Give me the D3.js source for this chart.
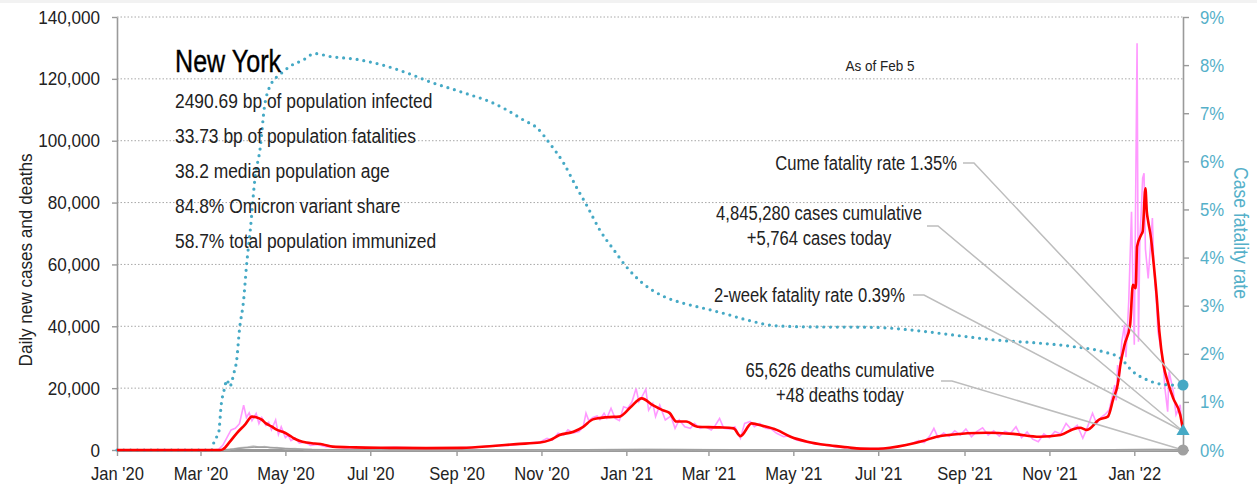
<!DOCTYPE html>
<html>
<head>
<meta charset="utf-8">
<script src="https://cdn.jsdelivr.net/npm/d3@7"></script>
<style>
  body { margin: 0; background: #fff; }
  text { font-family: 'Liberation Sans', Arial, sans-serif; }
</style>
</head>
<body>
<div id="chart"></div>
<script>
// ---- data ----
var stateName = "New York";
var statLines = [
  "2490.69 bp of population infected",
  "33.73 bp of population fatalities",
  "38.2 median population age",
  "84.8% Omicron variant share",
  "58.7% total population immunized"
];
var asOfLabel = "As of Feb 5";
var cumeLabel = ["Cume fatality rate 1.35%"];
var casesLabel = ["4,845,280 cases cumulative", "+5,764 cases today"];
var twoWeekLabel = ["2-week fatality rate 0.39%"];
var deathsLabel = ["65,626 deaths cumulative", "+48 deaths today"];
var cumeRate = 1.35;
var twoWeekRate = 0.39;
var startDate = "2020-01-01";
var endDate = "2022-02-05";
var yTicks = [0, 20000, 40000, 60000, 80000, 100000, 120000, 140000];
var rTicks = [0, 1, 2, 3, 4, 5, 6, 7, 8, 9];

// daily new cases (thin pink)
var dailyCases = [
  ["2020-01-01",0],["2020-03-10",0],["2020-03-14",200],["2020-03-17",1500],["2020-03-20",4000],
  ["2020-03-23",6500],["2020-03-26",7000],["2020-03-29",8500],["2020-04-01",14500],["2020-04-03",10500],
  ["2020-04-05",12000],["2020-04-07",9500],["2020-04-10",11800],["2020-04-12",8500],["2020-04-14",10500],
  ["2020-04-17",8000],["2020-04-19",9000],["2020-04-21",6500],["2020-04-24",9700],["2020-04-26",5000],
  ["2020-04-28",7500],["2020-05-01",4000],["2020-05-03",4800],["2020-05-05",3000],["2020-05-08",3800],
  ["2020-05-11",2200],["2020-05-15",2600],["2020-05-19",1500],["2020-05-24",1800],["2020-05-30",1100],
  ["2020-06-06",900],["2020-06-15",700],["2020-06-25",800],["2020-07-05",650],["2020-07-18",850],
  ["2020-08-01",700],["2020-08-15",600],["2020-09-01",750],["2020-09-15",850],["2020-09-29",1400],
  ["2020-10-08",1500],["2020-10-16",1900],["2020-10-24",2300],["2020-10-31",2600],["2020-11-05",3800],
  ["2020-11-09",3200],["2020-11-13",5400],["2020-11-17",4800],["2020-11-20",6500],["2020-11-24",5500],
  ["2020-11-28",6000],["2020-12-01",7500],["2020-12-03",11900],["2020-12-05",9500],["2020-12-08",10500],
  ["2020-12-11",11000],["2020-12-13",9800],["2020-12-16",11900],["2020-12-18",10300],["2020-12-21",13500],
  ["2020-12-24",10200],["2020-12-27",9500],["2020-12-30",14000],["2021-01-02",13500],["2021-01-05",15500],
  ["2021-01-08",19900],["2021-01-10",15600],["2021-01-12",17000],["2021-01-15",19600],["2021-01-17",12900],
  ["2021-01-20",15100],["2021-01-22",10800],["2021-01-25",14500],["2021-01-29",9700],["2021-02-02",11000],
  ["2021-02-05",7000],["2021-02-08",9700],["2021-02-12",7500],["2021-02-16",7000],["2021-02-19",8600],
  ["2021-02-23",7000],["2021-02-27",7500],["2021-03-03",6500],["2021-03-06",8000],["2021-03-09",10200],
  ["2021-03-12",7000],["2021-03-16",6800],["2021-03-20",7500],["2021-03-24",3800],["2021-03-27",8600],
  ["2021-03-31",9200],["2021-04-03",7500],["2021-04-07",8600],["2021-04-11",7000],["2021-04-15",6800],
  ["2021-04-19",5400],["2021-04-24",4300],["2021-04-28",4600],["2021-05-03",3200],["2021-05-09",2700],
  ["2021-05-16",2000],["2021-05-23",1600],["2021-06-01",1000],["2021-06-10",700],["2021-06-20",500],
  ["2021-07-01",450],["2021-07-10",700],["2021-07-18",1300],["2021-07-25",2100],["2021-07-30",3000],
  ["2021-08-03",2400],["2021-08-07",4500],["2021-08-10",7000],["2021-08-13",4000],["2021-08-17",5500],
  ["2021-08-21",4400],["2021-08-25",6200],["2021-08-29",4800],["2021-09-02",6800],["2021-09-06",4300],
  ["2021-09-10",6000],["2021-09-14",7200],["2021-09-18",4800],["2021-09-22",6200],["2021-09-26",4500],
  ["2021-09-30",6000],["2021-10-04",5300],["2021-10-08",7500],["2021-10-12",4000],["2021-10-16",5800],
  ["2021-10-20",3500],["2021-10-24",2700],["2021-10-28",5200],["2021-11-01",4000],["2021-11-05",6000],
  ["2021-11-09",5200],["2021-11-13",8600],["2021-11-17",6500],["2021-11-21",8000],["2021-11-25",3800],
  ["2021-11-28",7000],["2021-12-02",11900],["2021-12-05",8500],["2021-12-08",10500],["2021-12-11",11500],
  ["2021-12-14",13000],["2021-12-16",17000],["2021-12-18",21000],["2021-12-19",16000],["2021-12-20",27500],
  ["2021-12-21",22000],["2021-12-23",35000],["2021-12-25",40500],["2021-12-26",30000],["2021-12-28",48000],
  ["2021-12-30",77000],["2021-12-31",53400],["2022-01-01",34000],["2022-01-03",131500],["2022-01-04",35000],
  ["2022-01-05",68500],["2022-01-06",77000],["2022-01-07",87900],["2022-01-08",89500],["2022-01-09",65000],
  ["2022-01-11",55500],["2022-01-12",62000],["2022-01-14",75000],["2022-01-15",60000],["2022-01-17",47000],
  ["2022-01-18",38300],["2022-01-20",33000],["2022-01-22",27000],["2022-01-23",20000],["2022-01-25",12400],
  ["2022-01-26",25400],["2022-01-29",19000],["2022-01-31",11400],["2022-02-03",14600],["2022-02-04",8000],
  ["2022-02-05",5764]
];

// 7-day average of new cases (thick red)
var avgCases = [
  ["2020-01-01",0],["2020-03-15",0],["2020-03-17",200],["2020-03-22",2600],["2020-03-27",5400],
  ["2020-04-02",8200],["2020-04-07",10800],["2020-04-10",10600],["2020-04-14",9800],["2020-04-17",8600],
  ["2020-04-21",7600],["2020-04-25",6500],["2020-04-29",5900],["2020-05-03",5000],["2020-05-07",3800],
  ["2020-05-11",3000],["2020-05-16",2400],["2020-05-22",2100],["2020-05-28",1800],["2020-06-04",1100],
  ["2020-06-20",850],["2020-07-15",700],["2020-08-10",600],["2020-09-05",700],["2020-09-27",1300],
  ["2020-10-14",1900],["2020-10-31",2400],["2020-11-07",3200],["2020-11-14",4850],["2020-11-24",5900],
  ["2020-12-01",7500],["2020-12-08",9900],["2020-12-18",10600],["2020-12-27",10800],["2021-01-04",13800],
  ["2021-01-12",16700],["2021-01-20",14500],["2021-01-27",12900],["2021-02-01",12000],["2021-02-06",9200],
  ["2021-02-13",9200],["2021-02-21",7500],["2021-03-09",7300],["2021-03-19",7000],["2021-03-24",4500],
  ["2021-04-01",8600],["2021-04-09",7800],["2021-04-19",6500],["2021-04-29",4300],["2021-05-11",2700],
  ["2021-05-25",1600],["2021-06-09",870],["2021-06-18",430],["2021-07-01",400],["2021-07-21",1600],
  ["2021-08-02",2900],["2021-08-12",4300],["2021-09-03",5400],["2021-09-17",5600],["2021-10-06",5200],
  ["2021-10-25",4300],["2021-11-09",4850],["2021-11-18",6700],["2021-11-23",7200],["2021-11-28",6500],
  ["2021-12-07",9900],["2021-12-13",10800],["2021-12-17",16700],["2021-12-20",21000],["2021-12-22",27500],
  ["2021-12-25",34000],["2021-12-29",40500],["2021-12-31",53400],["2022-01-02",52300],["2022-01-03",65800],
  ["2022-01-06",69600],["2022-01-07",70600],["2022-01-09",84600],["2022-01-10",77000],["2022-01-11",73900],
  ["2022-01-13",68500],["2022-01-15",59900],["2022-01-17",50200],["2022-01-19",38300],["2022-01-22",27500],
  ["2022-01-25",22100],["2022-01-29",16700],["2022-02-03",11400],["2022-02-05",6500]
];

// daily deaths (light grey) and their average (grey)
var dailyDeaths = [
  ["2020-01-01",0],["2020-03-14",0],["2020-03-22",200],["2020-03-29",700],["2020-04-04",1000],
  ["2020-04-08",1300],["2020-04-12",900],["2020-04-16",1100],["2020-04-20",700],["2020-04-25",800],
  ["2020-05-01",400],["2020-05-08",450],["2020-05-15",200],["2020-05-22",150],["2020-06-05",60],
  ["2020-07-01",15],["2020-09-01",10],["2020-11-01",25],["2020-12-01",70],["2021-01-10",200],
  ["2021-02-10",130],["2021-03-20",70],["2021-05-01",30],["2021-07-01",8],["2021-09-01",35],
  ["2021-11-01",30],["2021-12-15",60],["2022-01-15",200],["2022-02-05",48]
];
var avgDeaths = [
  ["2020-01-01",0],["2020-03-16",0],["2020-03-25",300],["2020-04-02",750],["2020-04-10",950],
  ["2020-04-18",850],["2020-04-28",600],["2020-05-08",350],["2020-05-20",150],["2020-06-10",50],
  ["2020-07-15",15],["2020-10-01",10],["2020-12-01",60],["2021-01-15",170],["2021-03-01",90],
  ["2021-05-15",25],["2021-07-15",8],["2021-09-15",30],["2021-11-15",30],["2022-01-15",180],
  ["2022-02-05",110]
];

// cumulative case fatality rate in % (teal dots, right axis)
var fatalityRate = [
  ["2020-01-01",0],["2020-03-09",0],["2020-03-11",0.2],["2020-03-14",0.35],["2020-03-16",0.97],
  ["2020-03-18",1.25],["2020-03-20",1.46],["2020-03-22",1.32],["2020-03-25",1.6],["2020-03-27",1.87],
  ["2020-03-29",2.5],["2020-04-01",3.12],["2020-04-03",3.81],["2020-04-06",4.64],["2020-04-09",5.61],
  ["2020-04-13",6.3],["2020-04-16",7.14],["2020-04-21",7.62],["2020-04-27",7.8],["2020-05-04",7.97],
  ["2020-05-14",8.11],["2020-05-22",8.24],["2020-06-02",8.18],["2020-06-21",8.12],["2020-07-10",8.0],
  ["2020-07-30",7.81],["2020-08-13",7.65],["2020-08-27",7.52],["2020-09-11",7.38],["2020-09-25",7.24],
  ["2020-10-07",7.07],["2020-10-19",6.86],["2020-10-29",6.69],["2020-11-07",6.37],["2020-11-17",5.96],
  ["2020-11-26",5.47],["2020-12-04",5.06],["2020-12-13",4.57],["2020-12-23",4.16],["2021-01-01",3.81],
  ["2021-01-13",3.46],["2021-01-28",3.19],["2021-02-11",3.05],["2021-02-25",2.95],["2021-03-12",2.84],
  ["2021-03-29",2.7],["2021-04-19",2.58],["2021-05-11",2.56],["2021-06-27",2.55],["2021-07-26",2.49],
  ["2021-08-24",2.39],["2021-09-22",2.29],["2021-10-25",2.22],["2021-11-18",2.15],["2021-12-10",2.04],
  ["2021-12-22",1.91],["2021-12-31",1.63],["2022-01-10",1.46],["2022-01-20",1.37],["2022-01-29",1.35],
  ["2022-02-05",1.35]
];

// ---- layout ----
var svgWidth = 1257;
var svgHeight = 488;
var plot = { left: 117, right: 1183, top: 17, bottom: 450 };

var teal = "#45a9c5";
var tealText = "#55b0c9";
var axisGrey = "#9a9a9a";
var leaderGrey = "#bdbdbd";

var parseDate = d3.timeParse("%Y-%m-%d");
function toPoints(arr) {
  return arr.map(function(d) { return { date: parseDate(d[0]), value: d[1] }; });
}

// squeeze text horizontally to get the narrow look of the original typeface
function narrow(sel, factor) {
  sel.each(function() {
    var len = this.getComputedTextLength();
    d3.select(this)
      .attr("textLength", len * factor)
      .attr("lengthAdjust", "spacingAndGlyphs");
  });
}

var svg = d3.select("#chart")
  .append("svg")
  .attr("width", svgWidth)
  .attr("height", svgHeight);

// thin light band along the top edge
svg.append("rect")
  .attr("x", 0).attr("y", 0)
  .attr("width", svgWidth).attr("height", 3)
  .attr("fill", "#f2f2f2");

var xScale = d3.scaleTime()
  .domain([parseDate(startDate), parseDate(endDate)])
  .range([plot.left, plot.right]);

var yScale = d3.scaleLinear()
  .domain([0, 140000])
  .range([plot.bottom, plot.top]);

var rateScale = d3.scaleLinear()
  .domain([0, 9])
  .range([plot.bottom, plot.top]);

// dotted grid lines
svg.append("g")
  .selectAll("line")
  .data(yTicks.filter(function(d) { return d > 0; }))
  .enter()
  .append("line")
  .attr("x1", plot.left)
  .attr("x2", plot.right)
  .attr("y1", d => yScale(d))
  .attr("y2", d => yScale(d))
  .attr("stroke", "#a8a8a8")
  .attr("stroke-width", 1)
  .attr("stroke-dasharray", "1.5,2");

// left axis
var leftAxis = svg.append("g")
  .attr("transform", `translate(${plot.left},0)`)
  .call(d3.axisLeft(yScale).tickValues(yTicks).tickFormat(d3.format(",")).tickSize(5).tickSizeOuter(0).tickPadding(12));

leftAxis.selectAll("text").attr("font-size", 19).attr("fill", "#222");

// right axis
var rightAxis = svg.append("g")
  .attr("transform", `translate(${plot.right},0)`)
  .call(d3.axisRight(rateScale).tickValues(rTicks).tickFormat(d => d + "%").tickSize(6).tickSizeOuter(0).tickPadding(11));

rightAxis.selectAll("text").attr("font-size", 19).attr("fill", tealText);

// bottom axis
var bottomAxis = svg.append("g")
  .attr("transform", `translate(0,${plot.bottom})`)
  .call(d3.axisBottom(xScale).ticks(d3.timeMonth.every(2)).tickFormat(d3.timeFormat("%b '%y")).tickSize(6).tickSizeOuter(0).tickPadding(11));

bottomAxis.selectAll("text").attr("font-size", 19).attr("fill", "#222");

[leftAxis, rightAxis, bottomAxis].forEach(function(ax) {
  ax.attr("font-family", null);
  ax.select(".domain").attr("stroke", axisGrey).attr("stroke-width", 1.6);
  ax.selectAll(".tick line").attr("stroke", axisGrey).attr("stroke-width", 1.4);
});
bottomAxis.select(".domain").attr("stroke-width", 3);

narrow(leftAxis.selectAll("text"), 0.9);
narrow(rightAxis.selectAll("text"), 0.88);
narrow(bottomAxis.selectAll("text"), 0.87);

// axis titles
var leftTitle = svg.append("text")
  .attr("transform", "translate(32,260) rotate(-90)")
  .attr("text-anchor", "middle")
  .attr("font-size", 19)
  .attr("fill", "#222")
  .text("Daily new cases and deaths");

var rightTitle = svg.append("text")
  .attr("transform", "translate(1234,233) rotate(90)")
  .attr("text-anchor", "middle")
  .attr("font-size", 20)
  .attr("fill", tealText)
  .text("Case fatality rate");

narrow(leftTitle, 0.9);
narrow(rightTitle, 0.88);

// lines
var valueLine = d3.line()
  .x(d => xScale(d.date))
  .y(d => yScale(d.value));

var rateLine = d3.line()
  .x(d => xScale(d.date))
  .y(d => rateScale(d.value))
  .curve(d3.curveMonotoneX);

svg.append("path")
  .datum(toPoints(dailyDeaths))
  .attr("d", valueLine)
  .attr("fill", "none")
  .attr("stroke", "#c8c8c8")
  .attr("stroke-width", 1.5);

svg.append("path")
  .datum(toPoints(avgDeaths))
  .attr("d", valueLine)
  .attr("fill", "none")
  .attr("stroke", "#a0a0a0")
  .attr("stroke-width", 1.5);

svg.append("path")
  .datum(toPoints(dailyCases))
  .attr("d", valueLine)
  .attr("fill", "none")
  .attr("stroke", "#ff99ff")
  .attr("stroke-width", 1.6);

svg.append("path")
  .datum(toPoints(fatalityRate))
  .attr("d", rateLine)
  .attr("fill", "none")
  .attr("stroke", teal)
  .attr("stroke-width", 3.2)
  .attr("stroke-linecap", "round")
  .attr("stroke-dasharray", "0,6.8");

svg.append("path")
  .datum(toPoints(avgCases))
  .attr("d", valueLine.curve(d3.curveMonotoneX))
  .attr("fill", "none")
  .attr("stroke", "#ff0000")
  .attr("stroke-width", 2.6)
  .attr("stroke-linejoin", "round");

// title block
var title = svg.append("text")
  .attr("x", 175)
  .attr("y", 72)
  .attr("font-size", 31)
  .attr("fill", "#000")
  .attr("stroke", "#000")
  .attr("stroke-width", 0.4)
  .text(stateName);
narrow(title, 0.81);

var stats = svg.append("g")
  .selectAll("text")
  .data(statLines)
  .enter()
  .append("text")
  .attr("x", 175)
  .attr("y", (d, i) => 108 + i * 35)
  .attr("font-size", 20)
  .attr("fill", "#222")
  .text(d => d);
narrow(stats, 0.87);

var asOf = svg.append("text")
  .attr("x", 880)
  .attr("y", 71)
  .attr("text-anchor", "middle")
  .attr("font-size", 15)
  .attr("fill", "#222")
  .text(asOfLabel);
narrow(asOf, 0.9);

// end markers
var lastDate = parseDate(endDate);
var markX = xScale(lastDate);
var cumeY = rateScale(cumeRate);
var twoWeekY = rateScale(twoWeekRate);
var zeroY = yScale(0);

// annotations with leader lines
var notes = [
  { lines: cumeLabel, anchor: "end", x: 957, y: 170, lx: 963, ly: 163, tx: markX, ty: cumeY },
  { lines: casesLabel, anchor: "middle", x: 819, y: 220, lx: 927, ly: 226, tx: markX, ty: twoWeekY },
  { lines: twoWeekLabel, anchor: "end", x: 905, y: 302, lx: 913, ly: 295, tx: markX, ty: twoWeekY },
  { lines: deathsLabel, anchor: "middle", x: 840, y: 377, lx: 941, ly: 381, tx: markX, ty: zeroY }
];

notes.forEach(function(n) {
  svg.append("polyline")
    .attr("points", [[n.lx, n.ly], [n.lx + 11, n.ly], [n.tx, n.ty]].map(p => p.join(",")).join(" "))
    .attr("fill", "none")
    .attr("stroke", leaderGrey)
    .attr("stroke-width", 1.5);

  var t = svg.append("text")
    .attr("text-anchor", n.anchor)
    .attr("font-size", 20)
    .attr("fill", "#222");
  n.lines.forEach(function(line, i) {
    t.append("tspan")
      .attr("x", n.x)
      .attr("y", n.y + i * 25)
      .text(line);
  });
  narrow(t.selectAll("tspan"), 0.83);
});

svg.append("circle")
  .attr("cx", markX).attr("cy", cumeY).attr("r", 5.5)
  .attr("fill", teal);

svg.append("path")
  .attr("d", d3.symbol().type(d3.symbolTriangle).size(75))
  .attr("transform", `translate(${markX},${twoWeekY})`)
  .attr("fill", teal);

svg.append("circle")
  .attr("cx", markX).attr("cy", zeroY).attr("r", 5.5)
  .attr("fill", "#a0a0a0");
</script>
</body>
</html>
